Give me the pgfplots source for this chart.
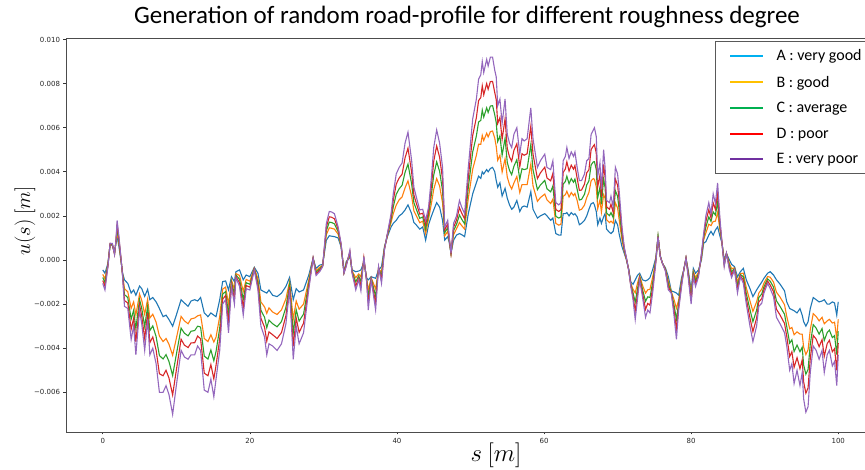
\documentclass[border=0pt]{standalone}
\usepackage{fontspec}
\setmainfont{Carlito}
\newfontfamily\dejavu{DejaVu Sans}
\usepackage{pgfplots}
\usepackage{pgfplotstable}
\pgfplotsset{compat=1.18}
\definecolor{tabblue}{HTML}{1F77B4}
\definecolor{taborange}{HTML}{FF7F0E}
\definecolor{tabgreen}{HTML}{2CA02C}
\definecolor{tabred}{HTML}{D62728}
\definecolor{tabpurple}{HTML}{9467BD}
\definecolor{legA}{HTML}{00B0F0}
\definecolor{legB}{HTML}{FFC000}
\definecolor{legC}{HTML}{00B050}
\definecolor{legD}{HTML}{FF0000}
\definecolor{legE}{HTML}{7030A0}
\pgfplotstableread{
s A B C D E
0.0 -0.00045 -0.00065 -0.00079 -0.00093 -0.00106
0.3 -0.0006 -0.00085 -0.00103 -0.00119 -0.00136
0.7 -0.00015 -0.0002 -0.00023 -0.00027 -0.0003
1.0 0.0007 0.00072 0.00073 0.00075 0.00076
1.3 0.00065 0.00068 0.00071 0.00073 0.00075
1.6 0.00035 0.00032 0.00029 0.00027 0.00025
1.8 0.0008 0.00083 0.00086 0.00088 0.0009
1.95 0.00106 0.0013 0.00147 0.00164 0.0018
2.2 0.0006 0.00075 0.00086 0.00096 0.00106
2.5 -0.0001 -0.00007 -0.00004 -0.00002 0
2.7 -0.0006 -0.00065 -0.00069 -0.00072 -0.00076
2.95 -0.0009 -0.0013 -0.00157 -0.00184 -0.0021
3.4 -0.00106 -0.00144 -0.0017 -0.00195 -0.0022
3.86 -0.0015 -0.00219 -0.00268 -0.00314 -0.0036
4.2 -0.00136 -0.0019 -0.00228 -0.00264 -0.003
4.5 -0.0016 -0.00249 -0.00311 -0.00371 -0.0043
5.0 -0.00118 -0.00154 -0.00179 -0.00203 -0.00227
5.3 -0.0013 -0.00183 -0.0022 -0.00255 -0.0029
5.7 -0.00165 -0.00246 -0.00302 -0.00356 -0.0041
6.1 -0.00133 -0.00178 -0.0021 -0.0024 -0.0027
6.4 -0.0018 -0.00263 -0.0032 -0.00375 -0.0043
6.8 -0.0017 -0.00246 -0.00299 -0.00349 -0.004
7.25 -0.0019 -0.00282 -0.00347 -0.00408 -0.0047
7.7 -0.0022 -0.00345 -0.00433 -0.00516 -0.006
8.2 -0.00257 -0.0037 -0.00449 -0.00525 -0.006
8.6 -0.0025 -0.00356 -0.00429 -0.005 -0.0057
9.0 -0.0027 -0.00382 -0.0046 -0.00535 -0.0061
9.5 -0.003 -0.00432 -0.00524 -0.00612 -0.007
10.0 -0.0025 -0.00356 -0.00429 -0.005 -0.0057
10.65 -0.0018 -0.00256 -0.00309 -0.00359 -0.0041
11.1 -0.00195 -0.00276 -0.00332 -0.00386 -0.0044
11.6 -0.0021 -0.00289 -0.00344 -0.00397 -0.0045
12.0 -0.00186 -0.00267 -0.00323 -0.00376 -0.0043
12.5 -0.0018 -0.00263 -0.0032 -0.00375 -0.0043
12.9 -0.00186 -0.00253 -0.003 -0.00345 -0.0039
13.3 -0.0017 -0.00249 -0.00304 -0.00357 -0.0041
13.8 -0.0024 -0.00356 -0.00436 -0.00513 -0.0059
14.3 -0.00257 -0.0037 -0.00449 -0.00525 -0.006
14.7 -0.0024 -0.00339 -0.00408 -0.00474 -0.0054
15.1 -0.0025 -0.00372 -0.00457 -0.00539 -0.0062
15.4 -0.00257 -0.0035 -0.00415 -0.00478 -0.0054
15.9 -0.0018 -0.00256 -0.00309 -0.00359 -0.0041
16.3 -0.00098 -0.00132 -0.00155 -0.00178 -0.002
16.7 -0.00095 -0.00123 -0.00143 -0.00161 -0.0018
17.1 -0.00136 -0.002 -0.00245 -0.00287 -0.0033
17.5 -0.00076 -0.00091 -0.00101 -0.0011 -0.0012
17.9 -0.00098 -0.00132 -0.00155 -0.00178 -0.002
18.1 -0.00053 -0.00062 -0.00068 -0.00074 -0.0008
18.6 -0.00045 -0.0007 -0.00087 -0.00104 -0.0012
19.1 -0.0009 -0.00143 -0.0018 -0.00215 -0.0025
19.5 -0.00068 -0.00088 -0.00103 -0.00116 -0.0013
20.0 -0.00076 -0.00096 -0.0011 -0.00123 -0.00136
20.6 -0.00033 -0.00037 -0.0004 -0.00042 -0.00045
21.1 -0.0006 -0.00085 -0.00103 -0.00119 -0.00136
21.5 -0.00136 -0.0019 -0.00228 -0.00264 -0.003
22.0 -0.00145 -0.00213 -0.0026 -0.00305 -0.0035
22.3 -0.0015 -0.00242 -0.00307 -0.00368 -0.0043
22.6 -0.00136 -0.00217 -0.00273 -0.00326 -0.0038
23.1 -0.0016 -0.00236 -0.00289 -0.00339 -0.0039
23.7 -0.00166 -0.00247 -0.00303 -0.00356 -0.0041
24.3 -0.0015 -0.00226 -0.00279 -0.00329 -0.0038
24.9 -0.0012 -0.00176 -0.00215 -0.00253 -0.0029
25.4 -0.00079 -0.00098 -0.00111 -0.00123 -0.00136
25.9 -0.0018 -0.00269 -0.00331 -0.00391 -0.0045
26.3 -0.0013 -0.00186 -0.00225 -0.00263 -0.003
26.7 -0.00145 -0.00223 -0.00277 -0.00328 -0.0038
27.3 -0.00136 -0.002 -0.00245 -0.00287 -0.0033
28.0 -0.0007 -0.00092 -0.00107 -0.00121 -0.00136
28.6 0.00008 0.00008 0.00008 0.00008 0.00008
29.0 -0.00038 -0.00049 -0.00056 -0.00063 -0.0007
29.5 -0.00023 -0.00033 -0.0004 -0.00046 -0.00053
29.9 -0.0002 -0.00023 -0.00026 -0.00028 -0.0003
30.4 0.0009 0.00115 0.00133 0.00149 0.00166
30.8 0.0011 0.00146 0.00172 0.00196 0.0022
31.1 0.00108 0.00144 0.0017 0.00194 0.00218
31.5 0.00106 0.0014 0.00164 0.00187 0.0021
32.0 0.001 0.00117 0.00128 0.00139 0.0015
32.4 0.0006 0.00065 0.00069 0.00072 0.00076
32.8 -0.00053 -0.00055 -0.00057 -0.00058 -0.0006
33.1 -0.00008 -0.00015 -0.0002 -0.00025 -0.0003
33.6 0.00015 0.00025 0.00032 0.00038 0.00045
33.9 -0.00045 -0.0005 -0.00053 -0.00057 -0.0006
34.4 -0.00053 -0.0008 -0.00099 -0.00118 -0.00136
34.8 -0.0005 -0.00063 -0.00072 -0.00081 -0.0009
35.1 -0.00045 -0.00076 -0.00098 -0.00119 -0.0014
35.5 -0.0001 -0.00002 0.00004 0.0001 0.00015
35.9 -0.00083 -0.00091 -0.00096 -0.00101 -0.00106
36.1 -0.0009 -0.00135 -0.00167 -0.00197 -0.00227
36.5 -0.00076 -0.00081 -0.00084 -0.00087 -0.0009
37.1 -0.00083 -0.00131 -0.00164 -0.00195 -0.00227
37.5 -0.00045 -0.0004 -0.00037 -0.00033 -0.0003
37.9 -0.0003 -0.00055 -0.00073 -0.00089 -0.00106
38.3 0.0006 0.00055 0.00052 0.00048 0.00045
38.7 0.00106 0.00111 0.00114 0.00117 0.0012
39.2 0.0015 0.0017 0.00184 0.00197 0.0021
39.5 0.00166 0.0021 0.00241 0.00271 0.003
39.9 0.0018 0.00249 0.00298 0.00344 0.0039
40.3 0.002 0.00273 0.00323 0.00372 0.0042
40.7 0.0021 0.00286 0.00339 0.00389 0.0044
41.1 0.00227 0.00327 0.00397 0.00463 0.0053
41.5 0.0025 0.00359 0.00435 0.00507 0.0058
42.0 0.0021 0.00289 0.00344 0.00397 0.0045
42.3 0.0017 0.00223 0.0026 0.00295 0.0033
42.6 0.0016 0.00203 0.00233 0.00261 0.0029
43.1 0.0014 0.00169 0.00189 0.00208 0.00227
43.5 0.0015 0.00176 0.00195 0.00212 0.0023
43.9 0.0009 0.0012 0.0014 0.0016 0.0018
44.3 0.0016 0.00186 0.00205 0.00222 0.0024
44.7 0.002 0.00259 0.00301 0.0034 0.0038
45.0 0.00227 0.0032 0.00385 0.00448 0.0051
45.4 0.0026 0.00369 0.00445 0.00517 0.0059
45.8 0.0024 0.00336 0.00402 0.00466 0.0053
46.2 0.0018 0.00259 0.00314 0.00367 0.0042
46.5 0.0009 0.0011 0.00124 0.00137 0.0015
46.9 0.00106 0.0013 0.00147 0.00164 0.0018
47.1 0.0008 0.00089 0.00095 0.001 0.00106
47.35 0.0003 0.0003 0.0003 0.0003 0.0003
47.7 0.0009 0.00115 0.00133 0.00149 0.00166
48.1 0.00113 0.00142 0.00162 0.00181 0.002
48.5 0.0012 0.0017 0.00204 0.00237 0.0027
48.8 0.00115 0.00156 0.00185 0.00213 0.0024
49.2 0.00106 0.0014 0.00164 0.00187 0.0021
49.7 0.0021 0.00279 0.00328 0.00374 0.0042
50.3 0.003 0.00412 0.0049 0.00565 0.0064
50.8 0.0035 0.00475 0.00563 0.00646 0.0073
51.1 0.0038 0.00525 0.00626 0.00723 0.0082
51.4 0.0037 0.00525 0.00633 0.00737 0.0084
51.6 0.004 0.00565 0.0068 0.0079 0.009
51.8 0.0039 0.00542 0.00648 0.00749 0.0085
52.2 0.0041 0.00575 0.0069 0.008 0.0091
52.4 0.004 0.00558 0.00669 0.00774 0.0088
52.7 0.00415 0.00582 0.00698 0.00809 0.0092
53.0 0.0042 0.00585 0.007 0.0081 0.0092
53.3 0.004 0.00552 0.00658 0.00759 0.0086
53.5 0.0036 0.00515 0.00623 0.00727 0.0083
53.7 0.0033 0.00452 0.00537 0.00619 0.007
54.0 0.0035 0.00475 0.00563 0.00646 0.0073
54.3 0.0029 0.00399 0.00475 0.00547 0.0062
54.7 0.00325 0.00459 0.00552 0.00641 0.0073
55.0 0.0028 0.00376 0.00442 0.00506 0.0057
55.3 0.0025 0.00342 0.00407 0.00468 0.0053
55.6 0.0023 0.00322 0.00387 0.00448 0.0051
55.9 0.0024 0.00349 0.00425 0.00497 0.0057
56.3 0.0027 0.00379 0.00455 0.00527 0.006
56.7 0.0022 0.00306 0.00366 0.00423 0.0048
57.0 0.0024 0.00342 0.00414 0.00482 0.0055
57.3 0.00245 0.00342 0.0041 0.00475 0.0054
57.7 0.0024 0.00342 0.00414 0.00482 0.0055
58.2 0.0031 0.00435 0.00523 0.00606 0.0069
58.5 0.0023 0.00336 0.00409 0.0048 0.0055
59.1 0.0019 0.00266 0.00319 0.00369 0.0042
59.5 0.002 0.00283 0.0034 0.00395 0.0045
60.1 0.0021 0.00299 0.00361 0.00421 0.0048
60.4 0.002 0.00273 0.00323 0.00372 0.0042
60.9 0.0018 0.00256 0.00309 0.00359 0.0041
61.2 0.0019 0.00276 0.00336 0.00393 0.0045
61.6 0.0012 0.00166 0.00198 0.00229 0.0026
62.0 0.00113 0.00158 0.0019 0.0022 0.0025
62.3 0.00113 0.00162 0.00195 0.00228 0.0026
62.6 0.0021 0.00289 0.00344 0.00397 0.0045
62.9 0.0021 0.00296 0.00356 0.00413 0.0047
63.1 0.00215 0.00312 0.0038 0.00445 0.0051
63.4 0.002 0.00286 0.00346 0.00403 0.0046
63.7 0.00215 0.00306 0.00369 0.0043 0.0049
64.0 0.00205 0.00292 0.00353 0.00412 0.0047
64.2 0.0021 0.00302 0.00367 0.00428 0.0049
64.5 0.00196 0.0027 0.00321 0.00371 0.0042
64.8 0.0016 0.00226 0.00272 0.00316 0.0036
65.1 0.00166 0.0023 0.00275 0.00317 0.0036
65.5 0.0018 0.00249 0.00298 0.00344 0.0039
65.8 0.002 0.00283 0.0034 0.00395 0.0045
66.1 0.0023 0.00306 0.00359 0.00409 0.0046
66.4 0.00255 0.00359 0.00431 0.00501 0.0057
66.7 0.0026 0.00369 0.00445 0.00517 0.0059
66.85 0.0025 0.00366 0.00446 0.00523 0.006
67.1 0.0022 0.00332 0.0041 0.00485 0.0056
67.3 0.0016 0.00233 0.00283 0.00332 0.0038
67.6 0.0019 0.00273 0.0033 0.00385 0.0044
67.8 0.00166 0.00217 0.00252 0.00286 0.0032
68.1 0.00196 0.00296 0.00366 0.00433 0.005
68.3 0.0021 0.00279 0.00328 0.00374 0.0042
68.5 0.0014 0.00183 0.00213 0.00241 0.0027
68.9 0.00125 0.0017 0.00201 0.0023 0.0026
69.1 0.0012 0.00176 0.00215 0.00253 0.0029
69.4 0.0013 0.00166 0.00192 0.00216 0.0024
69.7 0.0018 0.00259 0.00314 0.00367 0.0042
70.0 0.0016 0.00236 0.00289 0.00339 0.0039
70.2 0.0012 0.00186 0.00232 0.00276 0.0032
70.6 0.0006 0.0009 0.0011 0.0013 0.0015
70.9 0.0003 0.0004 0.00047 0.00053 0.0006
71.2 0 0.00003 0.00006 0.00008 0.0001
71.5 -0.0004 -0.00042 -0.00043 -0.00044 -0.00045
71.8 -0.001 -0.00107 -0.00111 -0.00116 -0.0012
72.1 -0.0011 -0.00133 -0.00149 -0.00165 -0.0018
72.4 -0.0009 -0.00149 -0.00191 -0.0023 -0.0027
72.7 -0.0007 -0.00106 -0.00132 -0.00156 -0.0018
73.0 -0.0006 -0.0007 -0.00077 -0.00083 -0.0009
73.4 -0.0009 -0.00116 -0.00135 -0.00152 -0.0017
73.8 -0.00095 -0.0015 -0.00187 -0.00224 -0.0026
74.1 -0.0009 -0.00135 -0.00167 -0.00197 -0.00227
74.4 -0.0008 -0.00133 -0.0017 -0.00205 -0.0024
74.8 -0.0004 -0.00073 -0.00096 -0.00118 -0.0014
75.2 0.0001 0.00003 -0.00001 -0.00006 -0.0001
75.5 0.00106 0.00106 0.00106 0.00106 0.00106
75.8 0.0002 0.00018 0.00017 0.00016 0.00015
76.1 -0.00015 -0.00015 -0.00015 -0.00015 -0.00015
76.5 -0.00035 -0.0004 -0.00043 -0.00047 -0.0005
76.9 -0.00076 -0.00096 -0.0011 -0.00123 -0.00136
77.3 -0.0014 -0.00143 -0.00146 -0.00148 -0.0015
77.7 -0.00145 -0.00183 -0.00209 -0.00235 -0.0026
78.0 -0.0015 -0.00219 -0.00268 -0.00314 -0.0036
78.3 -0.0016 -0.00182 -0.00198 -0.00212 -0.00227
78.7 -0.0008 -0.00093 -0.00102 -0.00111 -0.0012
79.0 -0.00045 -0.00045 -0.00045 -0.00045 -0.00045
79.3 0.00008 0.00008 0.00008 0.00008 0.00008
79.6 -0.00045 -0.00055 -0.00062 -0.00069 -0.00076
80.0 -0.00136 -0.00157 -0.00172 -0.00186 -0.002
80.3 -0.00038 -0.00051 -0.00059 -0.00068 -0.00076
80.6 -0.0006 -0.0008 -0.00094 -0.00107 -0.0012
81.0 -0.00045 -0.00055 -0.00062 -0.00069 -0.00076
81.4 0 0.0001 0.00017 0.00023 0.0003
81.7 0.00076 0.00091 0.00101 0.0011 0.0012
82.0 0.00083 0.00122 0.00149 0.00174 0.002
82.4 0.00113 0.00162 0.00195 0.00228 0.0026
82.7 0.0013 0.00156 0.00175 0.00192 0.0021
83.0 0.00113 0.00175 0.00218 0.00259 0.003
83.3 0.00136 0.00176 0.00204 0.0023 0.00257
83.6 0.0015 0.00216 0.00262 0.00306 0.0035
83.9 0.0011 0.00138 0.00158 0.00177 0.00196
84.2 0.00076 0.00076 0.00076 0.00076 0.00076
84.5 0 -0.0001 -0.00017 -0.00023 -0.0003
84.8 0.0003 0.0003 0.0003 0.0003 0.0003
85.2 0 -0.00015 -0.00025 -0.00035 -0.00045
85.5 -0.0002 -0.0004 -0.00054 -0.00067 -0.0008
85.9 -0.0003 -0.00035 -0.00038 -0.00042 -0.00045
86.3 -0.00076 -0.001 -0.00117 -0.00134 -0.0015
86.7 -0.00053 -0.00061 -0.00066 -0.00071 -0.00076
87.1 -0.00038 -0.0006 -0.00076 -0.00091 -0.00106
87.5 -0.0009 -0.00126 -0.00152 -0.00176 -0.002
88.0 -0.0013 -0.00186 -0.00225 -0.00263 -0.003
88.4 -0.00166 -0.00233 -0.0028 -0.00325 -0.0037
88.9 -0.00136 -0.0019 -0.00228 -0.00264 -0.003
89.2 -0.0012 -0.0015 -0.0017 -0.0019 -0.0021
89.6 -0.001 -0.00132 -0.00154 -0.00175 -0.00196
89.9 -0.00083 -0.00105 -0.00121 -0.00135 -0.0015
90.4 -0.0006 -0.00075 -0.00086 -0.00096 -0.00106
90.75 -0.00053 -0.00078 -0.00096 -0.00113 -0.0013
91.2 -0.00068 -0.001 -0.00123 -0.00144 -0.00166
91.6 -0.0009 -0.00146 -0.00185 -0.00223 -0.0026
92.1 -0.0011 -0.00169 -0.00211 -0.0025 -0.0029
92.7 -0.0014 -0.00203 -0.00246 -0.00288 -0.0033
93.0 -0.0019 -0.00256 -0.00302 -0.00346 -0.0039
93.4 -0.0022 -0.00312 -0.00377 -0.00438 -0.005
93.7 -0.00225 -0.00306 -0.00362 -0.00416 -0.0047
94.0 -0.0023 -0.00339 -0.00415 -0.00487 -0.0056
94.4 -0.0024 -0.00326 -0.00386 -0.00443 -0.005
94.8 -0.0022 -0.00336 -0.00416 -0.00493 -0.0057
95.1 -0.0025 -0.00336 -0.00396 -0.00453 -0.0051
95.3 -0.0028 -0.00396 -0.00476 -0.00553 -0.0063
95.6 -0.003 -0.00429 -0.00518 -0.00604 -0.0069
95.9 -0.0028 -0.00407 -0.00496 -0.0058 -0.00665
96.2 -0.0022 -0.00316 -0.00382 -0.00446 -0.0051
96.6 -0.0017 -0.00243 -0.00293 -0.00342 -0.0039
97.0 -0.0018 -0.00256 -0.00309 -0.00359 -0.0041
97.4 -0.0019 -0.00276 -0.00336 -0.00393 -0.0045
97.8 -0.00186 -0.0026 -0.00311 -0.00361 -0.0041
98.1 -0.0018 -0.00289 -0.00365 -0.00437 -0.0051
98.5 -0.002 -0.00276 -0.00329 -0.00379 -0.0043
98.8 -0.002 -0.00269 -0.00318 -0.00364 -0.0041
99.2 -0.0019 -0.00286 -0.00352 -0.00416 -0.0048
99.5 -0.00195 -0.00282 -0.00343 -0.00402 -0.0046
99.8 -0.0025 -0.00356 -0.00429 -0.005 -0.0057
100.0 -0.0019 -0.00269 -0.00324 -0.00377 -0.0043
}\profiles
\begin{document}
\begin{tikzpicture}
\useasboundingbox (-66pt,-38pt) rectangle (799pt,432pt);
\begin{axis}[
  scale only axis, width=809pt, height=394pt,
  xmin=-5, xmax=105, ymin=-0.0078, ymax=0.010068,
  axis line style={black!70, line width=0.8pt},
  tick align=outside, xtick pos=bottom, ytick pos=left,
  major tick length=2.5pt,
  tick style={black!80, line width=0.6pt},
  xtick={0,20,40,60,80,100}, xticklabels={0,20,40,60,80,100},
  ytick={-0.006,-0.004,-0.002,0,0.002,0.004,0.006,0.008,0.010},
  yticklabels={−0.006,−0.004,−0.002,0.000,0.002,0.004,0.006,0.008,0.010},
  scaled y ticks=false, scaled x ticks=false,
  ticklabel style={font=\dejavu\fontsize{7}{8}\selectfont, text=black!85},
  title={Generation of random road-profile for different roughness degree},
  every axis title/.style={at={(0.4957,1)}, anchor=base, yshift=14pt, font=\fontsize{25}{30}\selectfont},
  xlabel={$s\ [m]$}, ylabel={$u(s)\ [m]$},
  every axis x label/.style={at={(0.5315,0)}, anchor=base, yshift=-30pt, font=\fontsize{25}{30}\selectfont},
  every axis y label/.style={at={(-0.0507,0.5355)}, rotate=90, anchor=center, font=\fontsize{21}{25}\selectfont},
  legend image code/.code={\draw[#1] (0pt,0pt) -- (33pt,0pt);},
  legend cell align=left,
  legend style={at={(0.8022,0.9931)}, anchor=north west, draw=black!65, line width=0.8pt,
    fill=white, font=\fontsize{16}{19}\selectfont, inner xsep=14pt, inner ysep=8.5pt,
    row sep=13.75pt, column sep=12pt, nodes={inner sep=0pt}},
]
\addplot[tabblue, line width=1.1pt, forget plot] table[x=s, y=A] {\profiles};
\addplot[taborange, line width=1.1pt, forget plot] table[x=s, y=B] {\profiles};
\addplot[tabgreen, line width=1.1pt, forget plot] table[x=s, y=C] {\profiles};
\addplot[tabred, line width=1.1pt, forget plot] table[x=s, y=D] {\profiles};
\addplot[tabpurple, line width=1.1pt, forget plot] table[x=s, y=E] {\profiles};
\addlegendimage{legA, line width=2.2pt}
\addlegendentry{A : very good}
\addlegendimage{legB, line width=2.2pt}
\addlegendentry{B : good}
\addlegendimage{legC, line width=2.2pt}
\addlegendentry{C : average}
\addlegendimage{legD, line width=2.2pt}
\addlegendentry{D : poor}
\addlegendimage{legE, line width=2.2pt}
\addlegendentry{E : very poor}
\end{axis}
\end{tikzpicture}
\end{document}
